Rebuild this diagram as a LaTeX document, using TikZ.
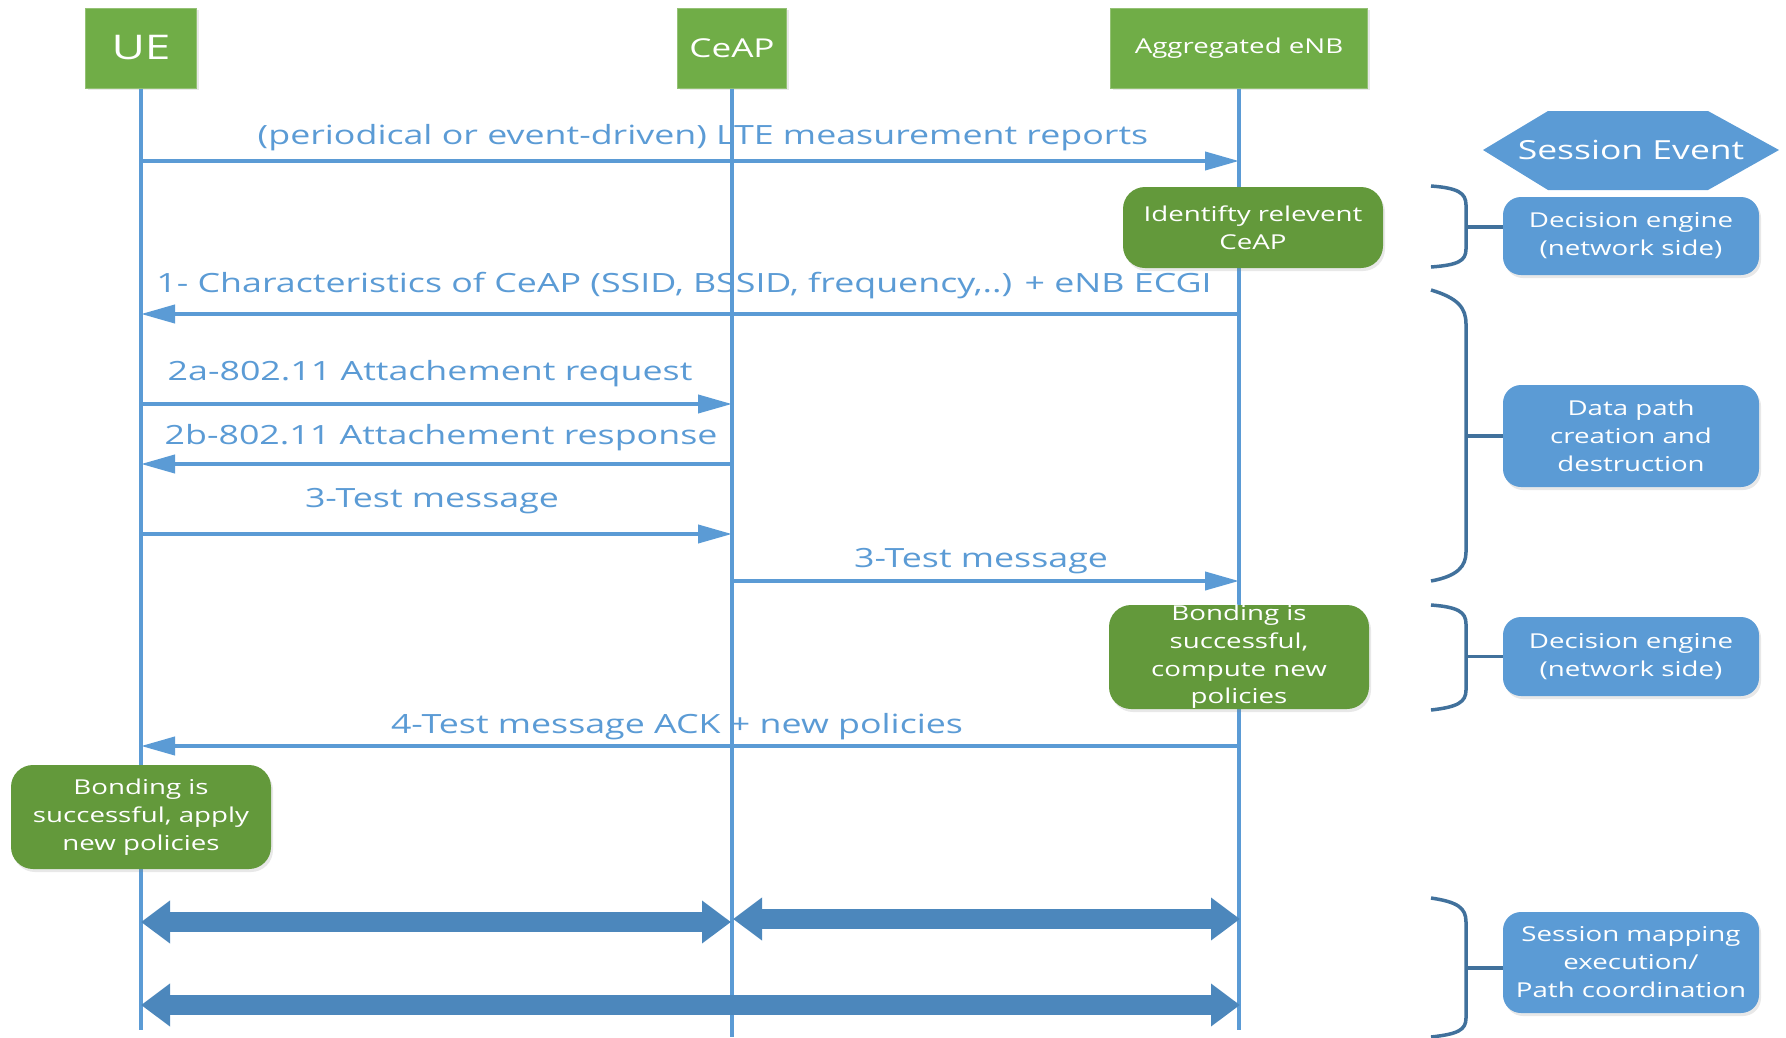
\documentclass[tikz,border=0pt]{standalone}
\usepackage{fontspec}
\setmainfont{Open Sans}[FakeStretch=1.35]
\usetikzlibrary{arrows.meta,shadows}
\definecolor{hdrgreen}{RGB}{112,173,71}
\definecolor{boxgreen}{RGB}{99,153,59}
\definecolor{boxblue}{RGB}{91,155,213}
\definecolor{msgblue}{RGB}{91,155,213}
\definecolor{thickblue}{RGB}{76,135,188}
\definecolor{bracecol}{RGB}{65,113,156}
\begin{document}
\begin{tikzpicture}[x=1pt,y=-1pt,
  header/.style={fill=hdrgreen, draw=hdrgreen!75!white, line width=1pt, inner sep=0pt, text=white,
    drop shadow={opacity=0.18,shadow xshift=2pt,shadow yshift=-2pt}},
  greenbox/.style={fill=boxgreen, rounded corners=22pt, inner sep=0pt,
    drop shadow={opacity=0.18,shadow xshift=2pt,shadow yshift=-3pt}},
  bluebox/.style={fill=boxblue, rounded corners=18pt, text=white, align=center, inner sep=0pt,
    font=\fontsize{20.5}{28}\selectfont,
    drop shadow={opacity=0.18,shadow xshift=2pt,shadow yshift=-3pt}},
  boxtext/.style={text=white, align=center, inner sep=0pt, font=\fontsize{20.5}{27.7}\selectfont},
  lifeline/.style={draw=msgblue, line width=4.5pt},
  msg/.style={draw=msgblue, line width=4pt, -{Triangle[length=34pt,width=18pt]}},
  msglabel/.style={text=msgblue, font=\fontsize{26.5}{30}\selectfont, inner sep=0pt},
  bigarrow/.style={draw=thickblue, line width=20pt,
    {Triangle[length=29pt,width=41pt]}-{Triangle[length=29pt,width=41pt]}},
  bracket/.style={draw=bracecol, line width=3.5pt},
]
\path[use as bounding box] (0,0) rectangle (1786,1037);

% headers
\node[header, minimum width=111pt, minimum height=80pt, font=\fontsize{34}{36}\selectfont] (ue) at (141,48) {UE};
\node[header, minimum width=109pt, minimum height=80pt, font=\fontsize{26}{30}\selectfont] (ceap) at (732,48) {CeAP};
\node[header, minimum width=257pt, minimum height=80pt, font=\fontsize{20.5}{24}\selectfont] (enb) at (1239,48) {Aggregated eNB};

% lifelines
\coordinate (ueEnd) at (141,1030);
\coordinate (ceapEnd) at (732,1037);
\coordinate (enbEnd) at (1239,1030);
\draw[lifeline] (ue.south) -- (ueEnd);
\draw[lifeline] (ceap.south) -- (ceapEnd);
\draw[lifeline] (enb.south) -- (enbEnd);

% message end points
\coordinate (ue1) at (141,161);   \coordinate (enb1) at (1239,161);
\coordinate (enb2) at (1239,314); \coordinate (ue2) at (141,314);
\coordinate (ue3) at (141,404);   \coordinate (ceap3) at (732,404);
\coordinate (ceap4) at (732,464); \coordinate (ue4) at (141,464);
\coordinate (ue5) at (141,534);   \coordinate (ceap5) at (732,534);
\coordinate (ceap6) at (732,581); \coordinate (enb6) at (1239,581);
\coordinate (enb7) at (1239,746); \coordinate (ue7) at (141,746);

% messages
\node[msglabel] (l1) at (703,137.5) {(periodical or event-driven) LTE measurement reports};
\draw[msg] (ue1) -- (enb1);
\node[msglabel] (l2) at (684,285.5) {1- Characteristics of CeAP (SSID, BSSID, frequency,..) + eNB ECGI};
\draw[msg] (enb2) -- (ue2);
\node[msglabel] (l3) at (430,373.5) {2a-802.11 Attachement request};
\draw[msg] (ue3) -- (ceap3);
\node[msglabel] (l4) at (441,437.5) {2b-802.11 Attachement response};
\draw[msg] (ceap4) -- (ue4);
\node[msglabel] (l5) at (432,501.5) {3-Test message};
\draw[msg] (ue5) -- (ceap5);
\node[msglabel] (l6) at (981,561.5) {3-Test message};
\draw[msg] (ceap6) -- (enb6);
\node[msglabel] (l7) at (677,726.5) {4-Test message ACK + new policies};
\draw[msg] (enb7) -- (ue7);

% green action boxes
\node[greenbox, minimum width=260pt, minimum height=81pt] (ident) at (1253,227.5) {};
\node[boxtext] (identt) at (ident.center) {Identifty relevent\\CeAP};
\node[greenbox, minimum width=260pt, minimum height=104pt] (bond) at (1239,657) {};
\node[boxtext] (bondt) at (bond.center) {Bonding is\\successful,\\compute new\\policies};
\node[greenbox, minimum width=260pt, minimum height=104pt] (uebond) at (141,817) {};
\node[boxtext] (uebondt) at (uebond.center) {Bonding is\\successful, apply\\new policies};

% thick data arrows
\coordinate (ta1) at (141,922);  \coordinate (tb1) at (731,922);
\coordinate (ta2) at (733,919);  \coordinate (tb2) at (1240,919);
\coordinate (ta3) at (141,1005); \coordinate (tb3) at (1240,1005);
\draw[bigarrow] (ta1) -- (tb1);
\draw[bigarrow] (ta2) -- (tb2);
\draw[bigarrow] (ta3) -- (tb3);

% session event hexagon
\fill[boxblue] (1483,150) -- (1548,111) -- (1708,111) -- (1779,150) -- (1708,190) -- (1548,190) -- cycle;
\node[text=white, inner sep=0pt, font=\fontsize{26.3}{30}\selectfont] (sess) at (1631,150) {Session Event};

% right boxes
\node[bluebox, minimum width=256pt, minimum height=78pt] (de1) at (1631,236) {Decision engine\\(network side)};
\node[bluebox, minimum width=256pt, minimum height=102pt] (dp) at (1631,436) {Data path\\creation and\\destruction};
\node[bluebox, minimum width=256pt, minimum height=79pt] (de2) at (1631,656.5) {Decision engine\\(network side)};
\node[bluebox, minimum width=256pt, minimum height=101pt] (sm) at (1631,962.5) {Session mapping\\execution/\\Path coordination};

% brackets
\draw[bracket] (1431,186) .. controls (1458,188) and (1466,193) .. (1466,205) -- (1466,249)
  .. controls (1466,261) and (1458,265) .. (1431,267);
\coordinate (b1) at (1466,227);
\draw[bracket] (b1) -- (b1 -| de1.west);
\draw[bracket] (1431,290) .. controls (1458,298) and (1466,308) .. (1466,324) -- (1466,552)
  .. controls (1466,566) and (1458,576) .. (1431,581);
\coordinate (b2) at (1466,436);
\draw[bracket] (b2) -- (b2 -| dp.west);
\draw[bracket] (1431,605) .. controls (1458,607) and (1466,612) .. (1466,624) -- (1466,690)
  .. controls (1466,702) and (1458,707) .. (1431,710);
\coordinate (b3) at (1466,656.5);
\draw[bracket] (b3) -- (b3 -| de2.west);
\draw[bracket] (1431,898) .. controls (1458,902) and (1466,908) .. (1466,922) -- (1466,1018)
  .. controls (1466,1030) and (1458,1034) .. (1431,1037);
\coordinate (b4) at (1466,968);
\draw[bracket] (b4) -- (b4 -| sm.west);
\end{tikzpicture}
\end{document}
